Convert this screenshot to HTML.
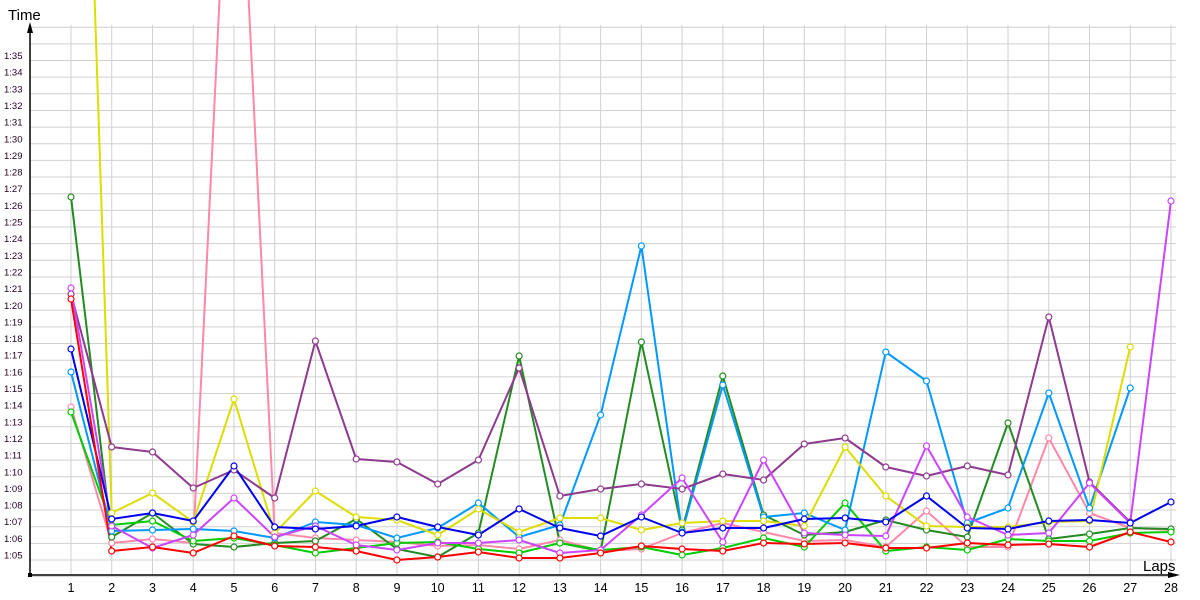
<!DOCTYPE html>
<html><head><meta charset="utf-8"><style>
html,body{margin:0;padding:0;background:#fff;width:1200px;height:600px;overflow:hidden}
svg{display:block}
text{font-family:"Liberation Sans","DejaVu Sans",sans-serif}
</style></head><body>
<svg id="s" width="1200" height="600" xmlns="http://www.w3.org/2000/svg"></svg>
<script>
const s=document.getElementById('s');
let h='';
const X=l=>71+(l-1)*40.74;
const Y=t=>560-(t-65)*16.65;
// grid
for(let t=64;t<=97;t++){const y=Y(t);h+=`<line x1="30" x2="1176" y1="${y}" y2="${y}" stroke="#d0d0d0" stroke-width="1"/>`;}
for(let l=1;l<=28;l++){const x=X(l);h+=`<line x1="${x}" x2="${x}" y1="25" y2="575" stroke="#d0d0d0" stroke-width="1"/>`;
h+=`<text x="${x}" y="592" font-size="12.5" text-anchor="middle" fill="#000">${l}</text>`;}
for(let t=65;t<=95;t++){const y=Y(t)-1.5;h+=`<text x="4" y="${y}" font-size="9.5" fill="#200020">1:${String(t-60).padStart(2,'0')}</text>`;}
// axes
h+=`<line x1="30" y1="575" x2="30" y2="30" stroke="#000" stroke-width="1.5"/><polygon points="30,22 27,33 33,33" fill="#000"/>`;
h+=`<line x1="30" y1="575" x2="1172" y2="575" stroke="#000" stroke-width="1.5"/><polygon points="1180,575 1168,572 1168,578" fill="#000"/>`;
h+=`<rect x="28" y="573" width="4" height="4" fill="#000"/>`;
h+=`<text x="8" y="20" font-size="15" fill="#000">Time</text>`;
h+=`<text x="1143" y="571" font-size="15" fill="#000">Laps</text>`;
const S=[
['#ff88aa',[407,543,539,543,-300,533,538,540,542,546,545,549,540,551,549,533,523,532,541,540,547,511,547,547,438,513,528,530]],
['#228b22',[197,537,513,544,547,543,541,519,549,557,533,356,543,551,342,530,376,515,535,532,520,530,537,423,539,534,528,529]],
['#00cc00',[412,525,521,541,538,545,553,548,543,542,549,553,543,550,547,555,548,538,547,503,551,547,550,539,541,541,533,532]],
['#0099ff',[372,531,530,529,531,538,522,525,538,528,503,537,525,415,246,532,385,517,513,530,352,381,523,508,393,508,388]],
['#dddd00',[-712,513,493,522,399,533,491,517,520,535,509,532,518,518,530,523,521,521,526,447,496,526,527,527,522,521,347]],
['#8e3a8e',[294,447,452,488,470,498,341,459,462,484,460,368,496,489,484,489,474,480,444,438,467,476,466,475,317,482,522]],
['#cc44ff',[288,526,548,535,498,537,526,545,550,543,543,540,553,550,515,478,542,460,533,535,536,446,517,535,533,483,523,201]],
['#0000ee',[349,519,513,521,466,527,529,526,517,527,535,509,528,536,517,533,528,528,519,518,522,496,528,529,521,520,523,502]],
['#ff0000',[299,551,547,553,536,546,547,551,560,557,552,558,558,553,546,549,551,543,544,543,548,548,543,545,544,547,532,542]]
];
for(const [c,d] of S){
 const pts=d.map((y,i)=>`${X(i+1).toFixed(1)},${y}`).join(' ');
 h+=`<polyline points="${pts}" fill="none" stroke="${c}" stroke-width="2" stroke-linejoin="round"/>`;
}
for(const [c,d] of S){
 d.forEach((y,i)=>{if(y>0)h+=`<circle cx="${X(i+1).toFixed(1)}" cy="${y}" r="3" fill="#fff" stroke="${c}" stroke-width="1.2"/>`;});
}
s.innerHTML=h;
</script>
</body></html>
